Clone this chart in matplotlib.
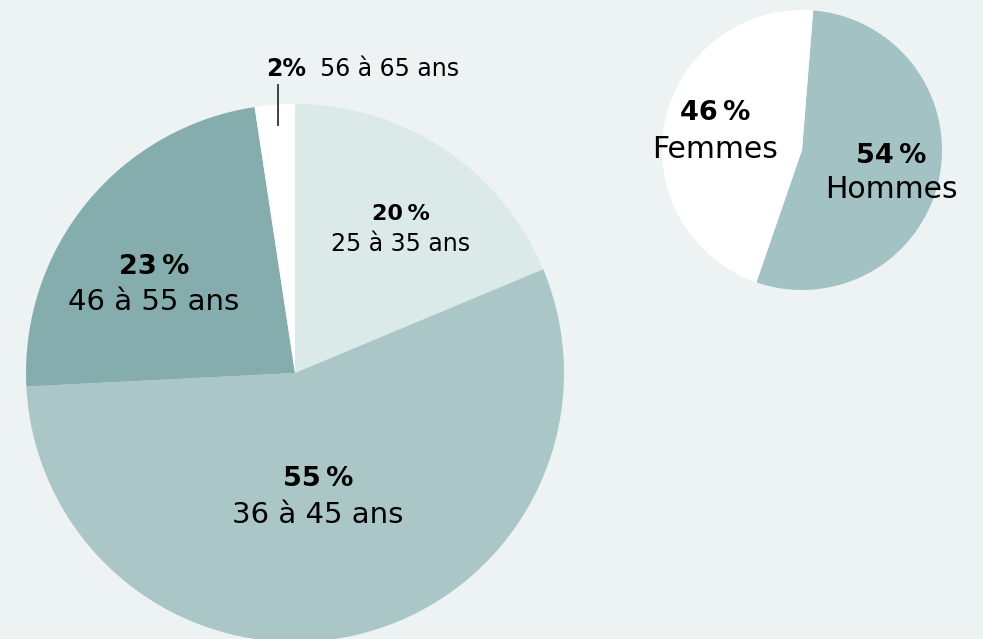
import matplotlib.pyplot as plt

# age groups, clockwise from 12 o'clock (wedge shares as drawn, labels as printed)
age_groups = ['25 à 35 ans', '36 à 45 ans', '46 à 55 ans', '56 à 65 ans']
age_share = [18.7, 55.5, 23.4, 2.4]
age_pct_label = ['20', '55', '23', '2']
age_colors = ['#dce9e9', '#abc6c7', '#85adad', '#ffffff']

sex_groups = ['Hommes', 'Femmes']
sex_share = [54, 46]
sex_pct_label = ['54', '46']
sex_colors = ['#a3c2c3', '#ffffff']

BG = '#edf3f3'
W, H = 983, 639

plt.rcParams['font.family'] = ['DejaVu Sans']

fig = plt.figure(figsize=(W / 100, H / 100), dpi=100, facecolor=BG)
ax = fig.add_axes([0, 0, 1, 1])
ax.set_facecolor(BG)

# big pie (ages)
ax.pie(age_share, colors=age_colors, startangle=90, counterclock=False,
       center=(295, H - 373), radius=269, wedgeprops=dict(linewidth=0))

# small pie (sex)
ax.pie(sex_share, colors=sex_colors, startangle=85.4, counterclock=False,
       center=(802, H - 150), radius=140, wedgeprops=dict(linewidth=0))

ax.set_xlim(0, W)
ax.set_ylim(0, H)
ax.set_aspect('equal')
ax.axis('off')


def label(x, y, pct, name, size_pct, size_name, gap):
    ax.text(x, H - y, pct + '\u2009%', ha='center', va='center',
            fontsize=size_pct, fontweight='bold', color='black')
    ax.text(x, H - y - gap, name, ha='center', va='center',
            fontsize=size_name, color='black')


label(401, 214, age_pct_label[0], age_groups[0], 16, 17, 30)
label(154, 267, age_pct_label[2], age_groups[2], 19.5, 21, 35)
label(318, 479, age_pct_label[1], age_groups[1], 19.5, 21, 36)
label(715, 113, sex_pct_label[1], sex_groups[1], 19.5, 21.5, 36)
label(891, 156, sex_pct_label[0], sex_groups[0], 19.5, 21.5, 34)

# small slice label with leader line
ax.text(266, H - 69, age_pct_label[3] + '%', ha='left', va='center',
        fontsize=17, fontweight='bold', color='black')
ax.text(320, H - 69, age_groups[3], ha='left', va='center',
        fontsize=17, color='black')
ax.plot([278, 278], [H - 85, H - 125], color='#333333', linewidth=1.3)

fig.savefig('out.png', dpi=100, facecolor=BG)
